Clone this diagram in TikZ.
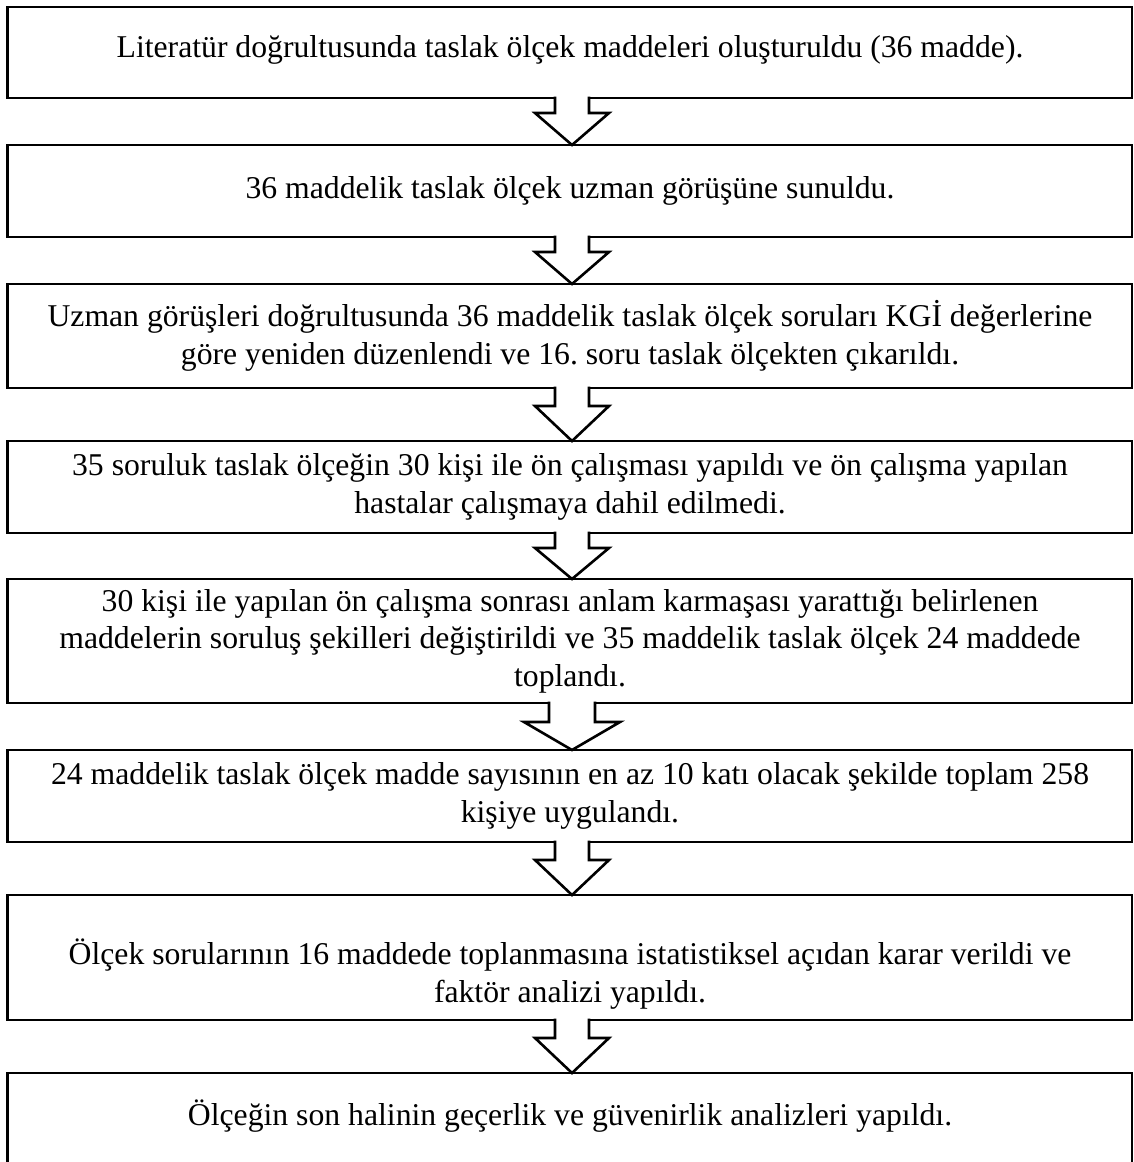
\documentclass[tikz,border=0pt]{standalone}
\usepackage{fontspec}
\setmainfont{Liberation Serif}
\usetikzlibrary{calc}
\frenchspacing
\newcommand\hollowdown[5]{% #1 upper box, #2 lower box, #3 shaft half width, #4 head half width, #5 shaft length
  \path ($(#1.south)+(2.25,0)$) coordinate (hdtop) ($(#2.north)+(2.25,0)$) coordinate (hdtip);
  \fill[white] ($(hdtop)+(-#3,-1.4)$) -- ($(hdtop)+(-#3,#5)$) -- ($(hdtop)+(-#4,#5)$) -- (hdtip)
     -- ($(hdtop)+(#4,#5)$) -- ($(hdtop)+(#3,#5)$) -- ($(hdtop)+(#3,-1.4)$) -- cycle;
  \draw[flowline] ($(hdtop)+(-#3,-1.35)$) -- ($(hdtop)+(-#3,#5)$) -- ($(hdtop)+(-#4,#5)$) -- (hdtip)
     -- ($(hdtop)+(#4,#5)$) -- ($(hdtop)+(#3,#5)$) -- ($(hdtop)+(#3,-1.35)$);
}
\begin{document}
\begin{tikzpicture}[x=1bp,y=-1bp,
  stepbox/.style={draw=black, line width=2.7bp, minimum width=1124.5bp, anchor=north west, inner sep=0pt, outer sep=0pt},
  steptext/.style={align=center, font=\fontsize{31.7bp}{37.5bp}\selectfont\frenchspacing, inner sep=0pt},
  flowline/.style={draw=black, line width=2.6bp, line join=miter}]
\fill[white] (0,0) rectangle (1134,1162);
\useasboundingbox (0,0) rectangle (1134,1162);

\node[stepbox, minimum height=91bp] (b1) at (7.5,7) {};
\node[stepbox, minimum height=92bp] (b2) at (7.5,145) {};
\node[stepbox, minimum height=104bp] (b3) at (7.5,284) {};
\node[stepbox, minimum height=92bp] (b4) at (7.5,441) {};
\node[stepbox, minimum height=124bp] (b5) at (7.5,579) {};
\node[stepbox, minimum height=92bp] (b6) at (7.5,750) {};
\node[stepbox, minimum height=125bp] (b7) at (7.5,895) {};
\node[stepbox, minimum height=92bp] (b8) at (7.5,1073) {};

\node[steptext] (t1) at (570,50) {Literatür doğrultusunda taslak ölçek maddeleri oluşturuldu (36 madde).};
\node[steptext] (t2) at (570,191) {36 maddelik taslak ölçek uzman görüşüne sunuldu.};
\node[steptext] (t3) at (570,336) {Uzman görüşleri doğrultusunda 36 maddelik taslak ölçek soruları KGİ değerlerine\\göre yeniden düzenlendi ve 16. soru taslak ölçekten çıkarıldı.};
\node[steptext] (t4) at (570,487) {35 soruluk taslak ölçeğin 30 kişi ile ön çalışması yapıldı ve ön çalışma yapılan\\hastalar çalışmaya dahil edilmedi.};
\node[steptext] (t5) at (570,641) {30 kişi ile yapılan ön çalışma sonrası anlam karmaşası yarattığı belirlenen\\maddelerin soruluş şekilleri değiştirildi ve 35 maddelik taslak ölçek 24 maddede\\toplandı.};
\node[steptext] (t6) at (570,796) {24 maddelik taslak ölçek madde sayısının en az 10 katı olacak şekilde toplam 258\\kişiye uygulandı.};
\node[steptext] (t7) at (570,974) {Ölçek sorularının 16 maddede toplanmasına istatistiksel açıdan karar verildi ve\\faktör analizi yapıldı.};
\node[steptext] (t8) at (570,1116) {Ölçeğin son halinin geçerlik ve güvenirlik analizleri yapıldı.};

\hollowdown{b1}{b2}{17}{37}{15}
\hollowdown{b2}{b3}{17}{37}{15}
\hollowdown{b3}{b4}{17}{37}{18}
\hollowdown{b4}{b5}{17}{37}{15}
\hollowdown{b5}{b6}{23}{48}{19}
\hollowdown{b6}{b7}{17}{37}{18}
\hollowdown{b7}{b8}{17}{37}{18}
\end{tikzpicture}
\end{document}
